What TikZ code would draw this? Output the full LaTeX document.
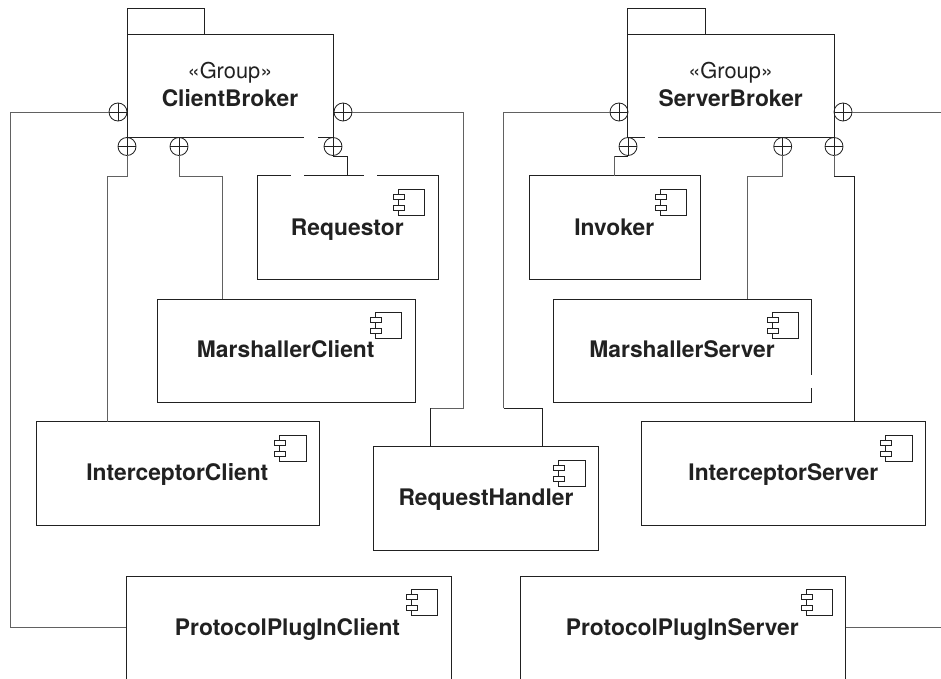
\documentclass[tikz,border=0pt]{standalone}
\usepackage{fontspec}
\setmainfont{TeX Gyre Heros}
\definecolor{ink}{gray}{0.13}
\definecolor{wire}{gray}{0.38}
\tikzset{
  x=1pt,y=-1pt,
  every node/.style={inner sep=0pt,outer sep=0pt,text=ink},
  box/.style n args={2}{draw=ink,line width=1pt,minimum width=#1,minimum height=#2,rectangle},
  openbox/.style n args={2}{minimum width=#1,minimum height=#2,rectangle},
  tabbox/.style={draw=ink,line width=1pt,minimum width=77.5pt,minimum height=26pt,rectangle},
  port/.style={circle,draw=ink,line width=0.8pt,minimum size=18pt,
    path picture={
      \draw[ink,line width=0.8pt] (path picture bounding box.north)--(path picture bounding box.south)
        (path picture bounding box.west)--(path picture bounding box.east);}},
  conn/.style={draw=wire,line width=0.9pt},
  connd/.style={draw=ink,line width=0.8pt},
  gap/.style={draw=white,line width=2.4pt},
  title/.style={font=\fontsize{22.8}{26}\selectfont\bfseries,anchor=base},
  stereo/.style={font=\fontsize{21.8}{26}\selectfont,anchor=base},
  compicon/.pic={
    \draw[ink,line width=0.7pt] (-13.3,20.5) -- (-13.3,39.5) -- (-39.7,39.5) -- (-39.7,34.5)
      (-39.7,23.5) -- (-39.7,29.5) (-39.7,18.5) -- (-39.7,13.5) -- (-13.3,13.5) -- (-13.3,20.5);
    \draw[ink,line width=0.7pt,fill=white] (-44.7,18.8) rectangle (-33.7,23.8);
    \draw[ink,line width=0.7pt,fill=white] (-44.7,29.5) rectangle (-33.7,34.5);
  }
}
\begin{document}
\begin{tikzpicture}
\useasboundingbox (0,0) rectangle (941,679);

% free wire ends and bends
\coordinate (edgeR1) at (941,112);
\coordinate (edgeR2) at (941,627.5);

% brokers
\node[tabbox] (clientTab) at (165.75,21.5) {};
\node[tabbox] (serverTab) at (666.45,21.5) {};
\node[box={206.5pt}{103pt}] (clientBroker) at (230.25,86) {};
\node[box={206.3pt}{103pt}] (serverBroker) at (730.85,86) {};
\node[stereo] (clientStereo) at (230,79) {«Group»};
\node[title] (clientTitle) at (230,106.7) {ClientBroker};
\node[stereo] (serverStereo) at (730.7,79) {«Group»};
\node[title] (serverTitle) at (730.7,106.7) {ServerBroker};

% components
\node[box={181pt}{103.5pt}] (requestor) at (347.5,227.25) {};
\node[box={170.7pt}{103.5pt}] (invoker) at (614.65,227.25) {};
\node[box={258pt}{103pt}] (marshC) at (286,350.5) {};
\node[box={258.4pt}{103pt}] (marshS) at (682.5,350.5) {};
\node[box={283.5pt}{103.5pt}] (interC) at (177.75,473.25) {};
\node[box={283.6pt}{103.5pt}] (interS) at (783.5,473.25) {};
\node[box={225pt}{103.3pt}] (reqH) at (486,498.35) {};
\node[openbox={325pt}{103pt}] (protoC) at (288.5,627.5) {};
\node[openbox={325pt}{103pt}] (protoS) at (683.2,627.5) {};
\draw[ink,line width=1pt] (protoC.south west) |- (protoC.north east) -- (protoC.south east);
\draw[ink,line width=1pt] (protoS.south west) |- (protoS.north east) -- (protoS.south east);

\foreach \n in {requestor,invoker,marshC,marshS,interC,interS,reqH,protoC,protoS}
  \pic at (\n.north east) {compicon};

\node[title] (t1) at (347.3,235) {Requestor};
\node[title] (t2) at (614.3,235) {Invoker};
\node[title] (t3) at (285.7,357) {MarshallerClient};
\node[title] (t4) at (682,357) {MarshallerServer};
\node[title] (t5) at (177.3,480) {InterceptorClient};
\node[title] (t6) at (783.3,480) {InterceptorServer};
\node[title] (t7) at (486,505.7) {RequestHandler};
\node[title] (t8) at (287.5,635) {ProtocolPlugInClient};
\node[title] (t9) at (682.3,635) {ProtocolPlugInServer};

% gaps in outlines
\draw[gap] (304,137.5) -- (318,137.5);
\draw[gap] (645,137.5) -- (658,137.5);
\draw[gap] (291,175.5) -- (304,175.5);
\draw[gap] (364,175.5) -- (377,175.5);
\draw[gap] (811.7,374.7) -- (811.7,388);

% ports
\node[port] (pc1) at (118,112) {};
\node[port] (pc2) at (343,112) {};
\node[port] (pc3) at (127,146.5) {};
\node[port] (pc4) at (179,146.5) {};
\node[port] (pc5) at (333,146.5) {};
\node[port] (ps1) at (619,112) {};
\node[port] (ps2) at (843,112) {};
\node[port] (ps3) at (628,146.5) {};
\node[port] (ps4) at (782.7,146.5) {};
\node[port] (ps5) at (834,146.5) {};

% connectors
\draw[conn] (pc1.west) -- ++(-99,0) coordinate (b1) |- (protoC.west);
\draw[conn] (pc3.south) |- ++(-20,20.5) coordinate (b2) -- (b2 |- interC.north);
\draw[conn] (pc4.south) |- ++(43,20.5) coordinate (b3) -- (b3 |- marshC.north);
\draw[connd] (pc5.south) ++(0,1) -| (requestor.north);
\draw[conn] (pc2.east) -- ++(111.5,0) coordinate (b4) -- ++(0,296) -- ++(-33.5,0) coordinate (b5);
\draw[connd] (b5) -- (b5 |- reqH.north);
\draw[conn] (ps1.west) -- ++(-106.3,0) coordinate (b6) -- ++(0,296) coordinate (b7);
\draw[connd] (b7) -- ++(38.8,0) coordinate (b8) -- (b8 |- reqH.north);
\draw[conn] (ps2.east) -- (edgeR1);
\draw[connd] (ps3.south) ++(0,1) -- ++(-13.3,0) coordinate (b9);
\draw[conn] (b9) -- (b9 |- invoker.north);
\draw[conn] (ps4.south) |- ++(-35.7,20.5) coordinate (b10) -- (b10 |- marshS.north);
\draw[conn] (ps5.south) -- ++(0,20.5) coordinate (b11);
\draw[connd] (b11) -- ++(20.3,0) coordinate (b12) -- (b12 |- interS.north);
\draw[conn] (protoS.east) -- (edgeR2);
\end{tikzpicture}
\end{document}
